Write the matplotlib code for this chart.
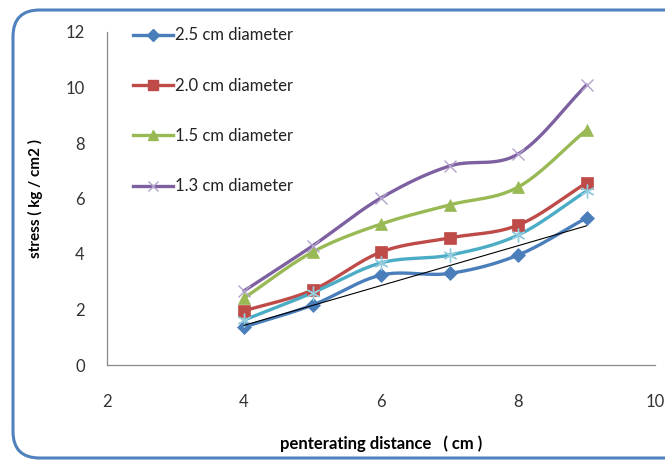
import numpy as np
import matplotlib
matplotlib.use("Agg")
import matplotlib.pyplot as plt
from matplotlib.patches import FancyBboxPatch

plt.rcParams['font.family'] = ['Lato', 'DejaVu Sans']

# penetration distance (cm)
distance = [4, 5, 6, 7, 8, 9]

# stress (kg / cm2) per rod diameter
stress_25 = [1.37, 2.16, 3.24, 3.30, 3.96, 5.30]
stress_20 = [1.95, 2.70, 4.07, 4.58, 5.04, 6.56]
stress_15 = [2.41, 4.07, 5.08, 5.77, 6.41, 8.47]
stress_13 = [2.67, 4.29, 6.02, 7.17, 7.60, 10.09]
stress_extra = [1.62, 2.60, 3.68, 3.96, 4.68, 6.27]

labels = ["2.5 cm diameter", "2.0 cm diameter", "1.5 cm diameter", "1.3 cm diameter"]

x_ticks = [2, 4, 6, 8, 10]
y_ticks = [0, 2, 4, 6, 8, 10, 12]


def smooth(xs, ys, n=30):
    """Catmull-Rom style smoothing through every point."""
    xs = np.asarray(xs, float)
    ys = np.asarray(ys, float)
    px = np.concatenate([[2 * xs[0] - xs[1]], xs, [2 * xs[-1] - xs[-2]]])
    py = np.concatenate([[2 * ys[0] - ys[1]], ys, [2 * ys[-1] - ys[-2]]])
    outx, outy = [], []
    t = np.linspace(0, 1, n)
    for i in range(1, len(px) - 2):
        p0 = np.array([px[i], py[i]])
        p3 = np.array([px[i + 1], py[i + 1]])
        c1 = p0 + (np.array([px[i + 1], py[i + 1]]) - np.array([px[i - 1], py[i - 1]])) / 6
        c2 = p3 - (np.array([px[i + 2], py[i + 2]]) - np.array([px[i], py[i]])) / 6
        b = ((1 - t) ** 3)[:, None] * p0 + (3 * (1 - t) ** 2 * t)[:, None] * c1 \
            + (3 * (1 - t) * t ** 2)[:, None] * c2 + (t ** 3)[:, None] * p3
        outx.extend(b[:, 0])
        outy.extend(b[:, 1])
    return np.array(outx), np.array(outy)


fig = plt.figure(figsize=(6.65, 4.63), dpi=100, facecolor="white")

# rounded chart frame
frame = FancyBboxPatch((13 / 665, 5 / 463), 680 / 665, 448 / 463,
                       boxstyle="round,pad=0,rounding_size=0.04",
                       transform=fig.transFigure, facecolor="none",
                       edgecolor="#4F81BD", linewidth=2.2, zorder=-1,
                       mutation_aspect=665 / 463)
fig.patches.append(frame)

ax = fig.add_axes([107 / 665, 98 / 463, 548 / 665, 333 / 463])
ax.set_facecolor("none")

series = [
    (stress_25, "#4A7EBB", "D", 7, "#4A7EBB", labels[0]),
    (stress_20, "#BE4B48", "s", 9, "#BE4B48", labels[1]),
    (stress_15, "#98B954", "^", 9, "#98B954", labels[2]),
    (stress_13, "#7D60A0", "x", 9, "#B3A2CC", labels[3]),
]

for ys, col, mk, ms, mec, lab in series:
    sx, sy = smooth(distance, ys)
    ax.plot(sx, sy, color=col, lw=2.4, solid_capstyle="round", zorder=3)
    ax.plot(distance, ys, linestyle="none", marker=mk, markersize=ms,
            color=col, markeredgecolor=mec, markeredgewidth=1.0 if mk == "x" else 0.5,
            zorder=4)
    ax.plot([], [], color=col, lw=2.4, marker=mk, markersize=ms * 0.85,
            markeredgecolor=mec, label=lab)

sx, sy = smooth(distance, stress_extra)
ax.plot(sx, sy, color="#4BACC6", lw=2.4, zorder=3)
ax.plot(distance, stress_extra, linestyle="none", marker=(6, 2, 0), markersize=10,
        markeredgecolor="#93CDDD", markeredgewidth=1.0, zorder=4)

# linear trend of the 2.5 cm series
k, b = np.polyfit(distance, stress_25, 1)
tx = np.array([distance[0], distance[-1]])
ax.plot(tx, k * tx + b, color="black", lw=0.8, zorder=5)

ax.set_xlim(2, 10)
ax.set_ylim(0, 12)
ax.set_xticks(x_ticks)
ax.set_yticks(y_ticks)
ax.tick_params(length=0, labelsize=12, colors="#333333")
ax.tick_params(axis="x", pad=21)
ax.tick_params(axis="y", pad=16)
for s in ["top", "right"]:
    ax.spines[s].set_visible(False)
for s in ["left", "bottom"]:
    ax.spines[s].set_color("#888888")
    ax.spines[s].set_linewidth(0.9)

ax.set_xlabel("penterating distance   ( cm )", fontsize=12, fontweight="bold", labelpad=18)
ax.set_ylabel("stress ( kg / cm2 )", fontsize=11, fontweight="bold", labelpad=16)

leg = ax.legend(loc="upper left", bbox_to_anchor=(0.035, 1.034), frameon=False,
                fontsize=12, labelspacing=2.06, handlelength=2.4, handletextpad=0.15,
                borderaxespad=0)
for t in leg.get_texts():
    t.set_color("#222222")

fig.savefig("out.png", dpi=100)
